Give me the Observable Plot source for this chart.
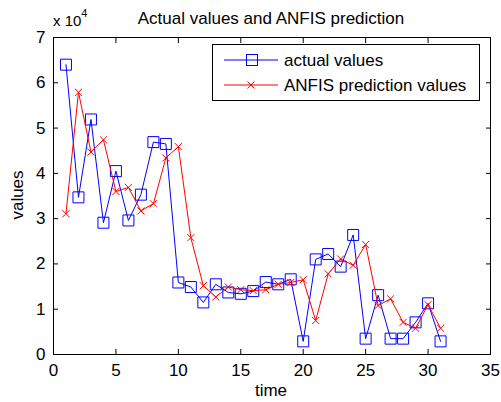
<!DOCTYPE html>
<html>
<head>
<meta charset="utf-8">
<script src="https://cdn.jsdelivr.net/npm/d3@7"></script>
<script src="https://cdn.jsdelivr.net/npm/@observablehq/plot@0.6"></script>
<style>
  html, body { margin: 0; padding: 0; background: #fff; }
  svg text { font-family: "Liberation Sans", Arial, sans-serif; }
</style>
</head>
<body>
<div id="chart"></div>
<script>
const time = [1,2,3,4,5,6,7,8,9,10,11,12,13,14,15,16,17,18,19,20,21,22,23,24,25,26,27,28,29,30,31];
const actualValues = [64000,34700,51900,29100,40500,29600,35300,46900,46500,15900,14900,11500,15500,13700,13400,14000,16000,15500,16600,2900,21000,22200,19400,26400,3500,13100,3500,3500,7100,11300,2900];
const anfisValues = [31100,57900,44700,47400,36000,36900,31700,33300,43400,45900,25800,15200,12700,14900,14300,14100,14300,15500,15900,16500,7500,17800,21100,19700,24300,10800,12300,7100,5800,11000,5800];
const xTicks = [0,5,10,15,20,25,30,35];
const yTicks = [0,10000,20000,30000,40000,50000,60000,70000];
const seriesNames = ["actual values", "ANFIS prediction values"];
const seriesColors = ["#0000ff", "#ff0000"];
const titleText = "Actual values and ANFIS prediction";
const xLabel = "time";
const yLabel = "values";

const rowsA = time.map((t, i) => ({t, v: actualValues[i]}));
const rowsP = time.map((t, i) => ({t, v: anfisValues[i]}));

const W = 501, H = 402;
const chart = Plot.plot({
  width: W,
  height: H,
  marginLeft: 53,
  marginRight: 11,
  marginTop: 37,
  marginBottom: 48,
  style: {fontFamily: '"Liberation Sans", Arial, sans-serif', fontSize: "17px", color: "black", background: "white"},
  x: {domain: [0, 35]},
  y: {domain: [0, 70000]},
  marks: [
    Plot.axisX(xTicks, {anchor: "bottom", tickSize: -5, tickPadding: 14, label: null, stroke: "black", fill: "black"}),
    Plot.axisX(xTicks, {anchor: "top", tickSize: -5, tickFormat: () => "", label: null, stroke: "black"}),
    Plot.axisY(yTicks, {anchor: "left", tickSize: -5, tickPadding: 13, tickFormat: d => String(d / 10000), label: null, stroke: "black", fill: "black"}),
    Plot.axisY(yTicks, {anchor: "right", tickSize: -5, tickFormat: () => "", label: null, stroke: "black"}),
    Plot.line(rowsA, {x: "t", y: "v", stroke: seriesColors[0], strokeWidth: 1}),
    Plot.dot(rowsA, {x: "t", y: "v", symbol: "square", r: 6.2, stroke: seriesColors[0], fill: "none", strokeWidth: 1}),
    Plot.line(rowsP, {x: "t", y: "v", stroke: seriesColors[1], strokeWidth: 1}),
    Plot.dot(rowsP, {x: "t", y: "v", symbol: "times", r: 3.3, stroke: seriesColors[1], strokeWidth: 1}),
    Plot.frame({stroke: "black", strokeWidth: 1})
  ]
});
document.getElementById("chart").appendChild(chart);

const svg = d3.select(chart);
const font = '"Liberation Sans", Arial, sans-serif';
// title
svg.append("text").attr("x", 271).attr("y", 24).attr("text-anchor", "middle")
  .attr("font-family", font).attr("font-size", 17).attr("fill", "black").text(titleText);
// exponent
const ex = svg.append("text").attr("x", 53).attr("y", 26).attr("text-anchor", "start")
  .attr("font-family", font).attr("font-size", 15).attr("fill", "black");
ex.append("tspan").text("x 10");
ex.append("tspan").attr("font-size", 11).attr("dy", -9).text("4");
// axis labels
svg.append("text").attr("x", 271).attr("y", 396).attr("text-anchor", "middle")
  .attr("font-family", font).attr("font-size", 17).attr("fill", "black").text(xLabel);
svg.append("text").attr("transform", "translate(23,195) rotate(-90)").attr("text-anchor", "middle")
  .attr("font-family", font).attr("font-size", 17).attr("fill", "black").text(yLabel);

// legend
const lg = svg.append("g");
lg.append("rect").attr("x", 212.5).attr("y", 44.5).attr("width", 267).attr("height", 56)
  .attr("fill", "white").attr("stroke", "black").attr("stroke-width", 1);
const rowY = [60, 85];
seriesNames.forEach((name, i) => {
  const y = rowY[i];
  lg.append("line").attr("x1", 224).attr("x2", 278).attr("y1", y).attr("y2", y)
    .attr("stroke", seriesColors[i]).attr("stroke-width", 1);
  if (i === 0) {
    lg.append("rect").attr("x", 246.5).attr("y", y - 5.5).attr("width", 11).attr("height", 11)
      .attr("fill", "none").attr("stroke", seriesColors[i]);
  } else {
    lg.append("path").attr("d", `M${251 - 3.5},${y - 3.5}L${251 + 3.5},${y + 3.5}M${251 - 3.5},${y + 3.5}L${251 + 3.5},${y - 3.5}`)
      .attr("stroke", seriesColors[i]).attr("fill", "none");
  }
  lg.append("text").attr("x", 284).attr("y", y + 6).attr("text-anchor", "start")
    .attr("font-family", font).attr("font-size", 17).attr("fill", "black").text(name);
});
</script>
</body>
</html>
